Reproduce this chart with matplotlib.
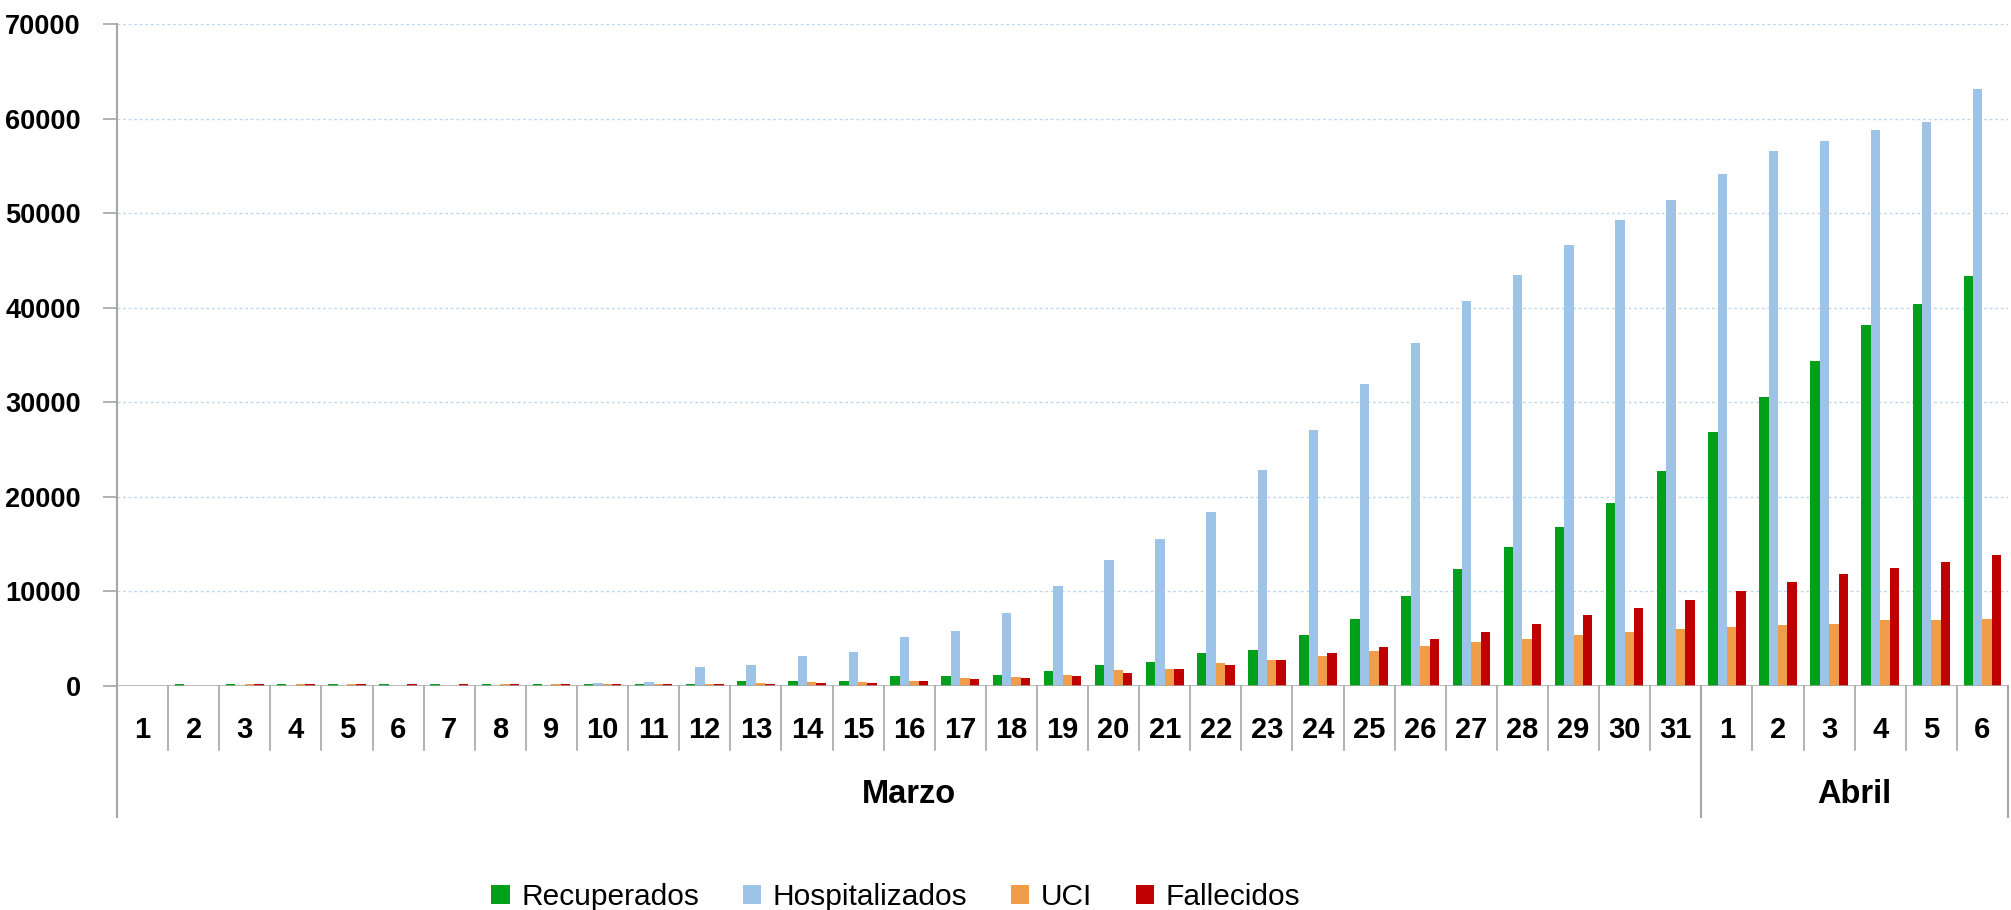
import matplotlib.pyplot as plt
import matplotlib.transforms as mtransforms
import numpy as np

plt.rcParams['font.family'] = ['Liberation Sans', 'DejaVu Sans']

dias = [str(d) for d in range(1, 32)] + [str(d) for d in range(1, 7)]
meses = ["Marzo", "Abril"]
dias_por_mes = [31, 6]

recuperados = [0, 150, 150, 150, 150, 150, 150, 150, 150, 150, 150, 150, 530, 530,
               530, 1020, 1020, 1170, 1520, 2160, 2540, 3430, 3780, 5410, 7050, 9470,
               12320, 14710, 16830, 19310, 22710,
               26800, 30570, 34340, 38210, 40410, 43310]
hospitalizados = [0, 0, 0, 0, 0, 0, 0, 0, 0, 280, 420, 1950, 2160, 3140, 3530, 5160,
                  5800, 7700, 10530, 13290, 15510, 18390, 22780, 27020, 31900, 36280,
                  40690, 43450, 46670, 49290, 51400,
                  54160, 56640, 57660, 58800, 59680, 63170]
uci = [0, 0, 150, 150, 150, 0, 0, 150, 150, 150, 150, 210, 280, 390, 390, 530, 810,
       920, 1170, 1660, 1800, 2400, 2690, 3140, 3680, 4230, 4600, 4970, 5330, 5700,
       5980,
       6160, 6440, 6530, 6940, 6940, 7080]
fallecidos = [0, 0, 150, 150, 150, 150, 150, 150, 150, 150, 150, 150, 150, 280, 280,
              530, 670, 810, 1020, 1310, 1800, 2160, 2690, 3430, 4060, 4970, 5700, 6530,
              7450, 8180, 9060,
              10070, 10940, 11820, 12460, 13060, 13840]

series = [("Recuperados", recuperados, "#00A01A"),
          ("Hospitalizados", hospitalizados, "#9DC3E6"),
          ("UCI", uci, "#F09C48"),
          ("Fallecidos", fallecidos, "#C00000")]

fig = plt.figure(figsize=(20.11, 9.10), dpi=100)
ax = fig.add_axes([117 / 2011, 224.3 / 910, (2008 - 117) / 2011, (685.7 - 24.3) / 910])

x = np.arange(len(dias))
w = 0.184
for i, (nombre, vals, col) in enumerate(series):
    ax.bar(x + (i - 1.5) * w, vals, width=w, color=col, label=nombre, zorder=3)

ax.set_xlim(-0.5, len(dias) - 0.5)
ax.set_ylim(0, 70000)
ax.set_yticks(range(0, 70001, 10000))
ax.tick_params(axis='y', length=10, width=1.2, color='#a6a6a6', pad=16,
               labelsize=19.5)
for t in ax.get_yticklabels():
    t.set_fontweight('bold')
ax.set_xticks([])
ax.yaxis.grid(True, color='#BDD7EE', linestyle=(0, (2, 2)), linewidth=1, zorder=0)
for s in ['top', 'right', 'bottom']:
    ax.spines[s].set_visible(False)
ax.spines['left'].set_color('#a6a6a6')
ax.spines['left'].set_linewidth(1.5)
ax.axhline(0, color='#a6a6a6', linewidth=1.8, zorder=4)

trans = mtransforms.blended_transform_factory(ax.transData, ax.transAxes)
# separadores de los días
for k in range(1, len(dias)):
    ax.plot([k - 0.5, k - 0.5], [0, -0.097], transform=trans, color='#a6a6a6',
            lw=1.2, clip_on=False)
# separadores largos (meses)
limites = [-0.5, dias_por_mes[0] - 0.5, len(dias) - 0.5]
for b in limites:
    ax.plot([b, b], [0, -0.1985], transform=trans, color='#a6a6a6', lw=1.5,
            clip_on=False)

for k, d in enumerate(dias):
    ax.text(k, -0.067, d, transform=trans, ha='center', va='center',
            fontsize=21, fontweight='bold')

inicio = 0
for mes, n in zip(meses, dias_por_mes):
    ax.text(inicio + (n - 1) / 2, -0.165, mes, transform=trans, ha='center',
            va='center', fontsize=23.5, fontweight='bold')
    inicio += n

fig.legend(loc='center', bbox_to_anchor=(0.4455, 0.0143), ncol=4, frameon=False,
           fontsize=21.5, handlelength=0.61, handleheight=0.61, handletextpad=0.4,
           columnspacing=1.45)

fig.savefig("out.png", dpi=100)
